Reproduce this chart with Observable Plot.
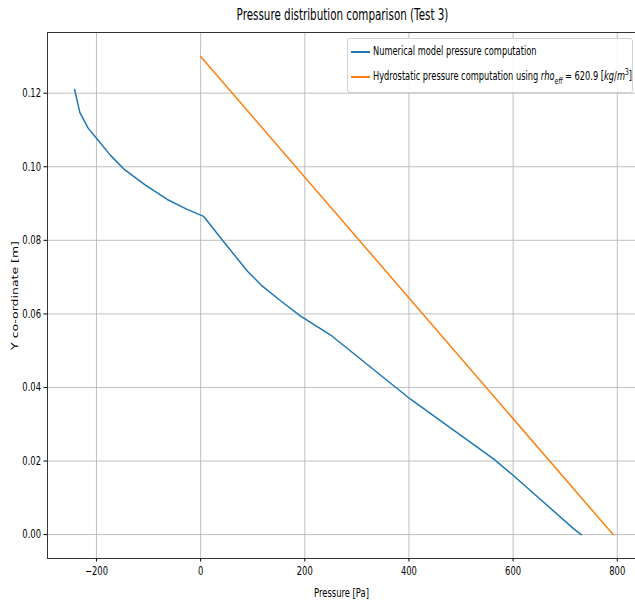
<!DOCTYPE html>
<html>
<head>
<meta charset="utf-8">
<script src="https://cdn.jsdelivr.net/npm/d3@7"></script>
<script src="https://cdn.jsdelivr.net/npm/@observablehq/plot@0.6"></script>
<style>
  body { margin: 0; background: #fff; }
  #wrap { position: relative; width: 635px; height: 603px; overflow: hidden; font-family: "DejaVu Sans", sans-serif; }
  #title { height: 22px; padding-top: 4px; line-height: 22px; font-size: 15px; margin-left: 47px; width: 590px; text-align: center; color: #000; }
  #title span { display: inline-block; transform: scaleX(0.69); transform-origin: center; }
  #legend { position: absolute; left: 347px; top: 38px; width: 286px; height: 55px; box-sizing: border-box;
    border: 1px solid #d0d0d0; border-radius: 3px; background: rgba(255,255,255,0.85); font-size: 12.5px; color: #000; }
  .row { position: absolute; left: 0; height: 20px; line-height: 20px; white-space: nowrap; }
  .sw { position: absolute; left: 3px; top: 10px; width: 19px; height: 2px; }
  .lab { position: absolute; left: 25px; top: 0; transform: scaleX(0.66); transform-origin: left center; }
  sub, sup { font-size: 9px; line-height: 0; }
</style>
</head>
<body>
<div id="wrap">
  <div id="title"><span>Pressure distribution comparison (Test 3)</span></div>
  <div id="chart"></div>
  <div id="legend">
    <div class="row" style="top:2px"><div class="sw" style="background:#1f77b4"></div><span class="lab">Numerical model pressure computation</span></div>
    <div class="row" style="top:27px"><div class="sw" style="background:#ff7f0e"></div><span class="lab">Hydrostatic pressure computation using <i>rho</i><sub><i>eff</i></sub> = 620.9 [<i>kg</i>/<i>m</i><sup>3</sup>]</span></div>
  </div>
</div>
<script>
// Numerical model (blue)
const numPressure = [-242, -232, -216, -198, -173, -146, -106, -64, -26, 6, 42, 90, 118, 154, 192, 252, 403, 563, 601, 717, 731];
const numY        = [0.121, 0.1148, 0.1105, 0.1074, 0.1031, 0.0992, 0.095, 0.0911, 0.0884, 0.0865, 0.080, 0.0716, 0.0676, 0.0635, 0.0594, 0.054, 0.0368, 0.0205, 0.016, 0.0015, 0.0];
// Hydrostatic (orange)
const hydPressure = [0, 792];
const hydY        = [0.13, 0.0];
// Ticks
const xTicks = [-200, 0, 200, 400, 600, 800];
const yTicks = [0.00, 0.02, 0.04, 0.06, 0.08, 0.10, 0.12];

const numeric = numPressure.map((p, i) => ({p, y: numY[i]}));
const hydro = hydPressure.map((p, i) => ({p, y: hydY[i]}));

const plot = Plot.plot({
  width: 635,
  height: 577,
  marginTop: 6,
  marginBottom: 45,
  marginLeft: 47,
  marginRight: 0,
  style: { fontFamily: "DejaVu Sans, sans-serif", fontSize: "12px", color: "#000", background: "#fff" },
  x: { domain: [-294, 835], label: null },
  y: { domain: [-0.0065, 0.1365], label: null },
  marks: [
    Plot.gridX(xTicks, { stroke: "#b0b0b0", strokeOpacity: 1, strokeWidth: 0.8 }),
    Plot.gridY(yTicks, { stroke: "#b0b0b0", strokeOpacity: 1, strokeWidth: 0.8 }),
    Plot.line(numeric, { x: "p", y: "y", stroke: "#1f77b4", strokeWidth: 1.5 }),
    Plot.line(hydro, { x: "p", y: "y", stroke: "#ff7f0e", strokeWidth: 1.5 }),
    Plot.frame({ anchor: "left", stroke: "#333", strokeWidth: 1 }),
    Plot.frame({ anchor: "top", stroke: "#333", strokeWidth: 1 }),
    Plot.frame({ anchor: "bottom", stroke: "#333", strokeWidth: 1 }),
    Plot.axisX(xTicks, { tickSize: 3.5, tickPadding: 4, tickFormat: d3.format(""), fontSize: 12, label: "Pressure [Pa]", labelArrow: "none", labelAnchor: "center", labelOffset: 38 }),
    Plot.axisY(yTicks, { tickSize: 3.5, tickPadding: 3, tickFormat: d3.format(".2f"), fontSize: 12, label: null }),
    Plot.axisY([], { label: "Y co-ordinate [m]", labelArrow: "none", labelAnchor: "center", labelOffset: 37, fontSize: 12.5 })
  ]
});
document.getElementById("chart").appendChild(plot);
// narrow the glyphs horizontally, as in the reference picture
plot.querySelectorAll("text").forEach(t => {
  const b = t.getBBox();
  const tr = t.getAttribute("transform") || "";
  const rotated = tr.includes("rotate") || (t.parentNode.getAttribute("transform") || "").includes("rotate");
  if (rotated) {
    const cy = b.y + b.height / 2;
    t.setAttribute("transform", `${tr} translate(0,${cy}) scale(1,0.7) translate(0,${-cy})`.trim());
  } else {
    const anchor = getComputedStyle(t).textAnchor;
    const ax = anchor === "end" ? b.x + b.width : anchor === "middle" ? b.x + b.width / 2 : b.x;
    t.setAttribute("transform", `${tr} translate(${ax},0) scale(0.7,1) translate(${-ax},0)`.trim());
  }
});
</script>
</body>
</html>
